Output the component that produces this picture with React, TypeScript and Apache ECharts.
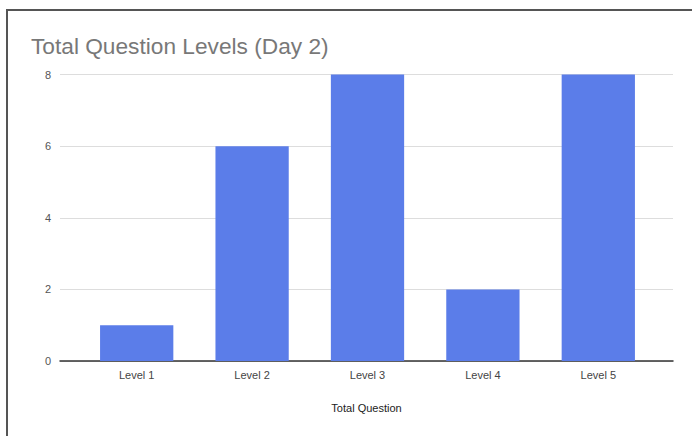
import React, { useEffect, useRef } from "react";
import * as echarts from "echarts";

const categories = ["Level 1", "Level 2", "Level 3", "Level 4", "Level 5"];
const totalQuestion = [1, 6, 8, 2, 8];
const yTicks = { min: 0, max: 8, interval: 2 };

const FONT = "'Liberation Sans', Arial, sans-serif";

export default function App() {
  const ref = useRef<HTMLDivElement>(null);

  useEffect(() => {
    if (!ref.current) return;
    const chart = echarts.init(ref.current, undefined, { renderer: "svg" });
    chart.setOption({
      animation: false,
      backgroundColor: "#ffffff",
      textStyle: { fontFamily: FONT },
      title: {
        text: "Total Question Levels (Day 2)",
        left: 26,
        top: 29,
        textStyle: { fontFamily: FONT, fontSize: 22.7, fontWeight: "normal", color: "#787878" },
      },
      grid: [
        // outer grid: value labels, gridlines and baseline across the full plot width
        { left: 60, right: 19, top: 74.5, bottom: 75 },
        // inner grid: the category bands that hold the bars
        { left: 79, right: 36, top: 74.5, bottom: 75 },
      ],
      xAxis: [
        {
          gridIndex: 0,
          type: "value",
          min: 0,
          max: 1,
          axisLabel: { show: false },
          axisTick: { show: false },
          splitLine: { show: false },
          axisLine: { show: true, onZero: false, lineStyle: { color: "#333333", width: 1.5 } },
          name: "Total Question",
          nameLocation: "middle",
          nameGap: 41,
          nameTextStyle: { fontFamily: FONT, fontSize: 11, color: "#222222" },
        },
        {
          gridIndex: 1,
          type: "category",
          data: categories,
          axisLine: { show: false },
          axisTick: { show: false },
          axisLabel: { fontFamily: FONT, fontSize: 11, color: "#444444", margin: 8 },
        },
      ],
      yAxis: [
        {
          gridIndex: 0,
          type: "value",
          ...yTicks,
          axisLine: { show: false },
          axisTick: { show: false },
          axisLabel: { fontFamily: FONT, fontSize: 11, color: "#555555", margin: 9 },
          splitLine: { show: true, lineStyle: { color: "#dddddd", width: 1 } },
        },
        {
          gridIndex: 1,
          type: "value",
          ...yTicks,
          show: false,
          splitLine: { show: false },
        },
      ],
      series: [
        {
          type: "bar",
          name: "Total Question",
          xAxisIndex: 1,
          yAxisIndex: 1,
          data: totalQuestion,
          barWidth: "63.5%",
          itemStyle: { color: "#5b7de9" },
          z: 3,
        },
      ],
    });
    return () => chart.dispose();
  }, []);

  return (
    <div style={{ position: "fixed", left: 0, top: 0, width: 692, height: 436, background: "#ffffff", overflow: "hidden" }}>
      <div ref={ref} style={{ position: "absolute", left: 0, top: 0, width: 692, height: 436 }} />
      <div
        style={{
          position: "absolute",
          left: 6,
          top: 9,
          width: 700,
          height: 440,
          borderTop: "2px solid #555555",
          borderLeft: "2px solid #555555",
          pointerEvents: "none",
        }}
      />
    </div>
  );
}
